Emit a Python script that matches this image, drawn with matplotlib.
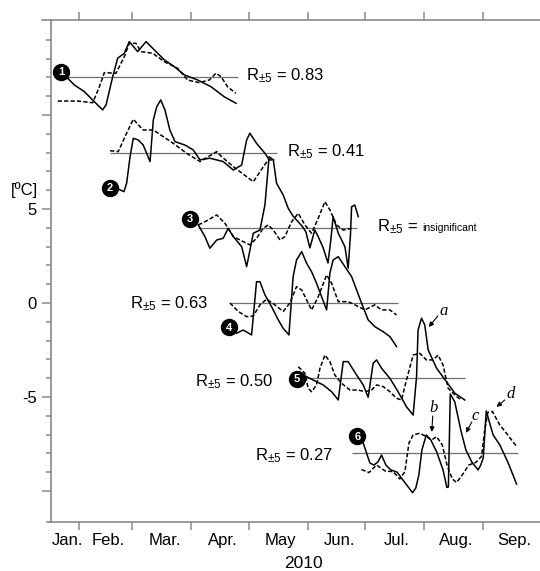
import matplotlib
matplotlib.use('Agg')
import matplotlib.pyplot as plt

plt.rcParams['font.family'] = ['Liberation Sans', 'DejaVu Sans']
plt.rcParams['mathtext.fontset'] = 'custom'
plt.rcParams['mathtext.rm'] = 'Liberation Sans'
plt.rcParams['mathtext.it'] = 'Liberation Sans:italic'

# x = day of year 2010, y = shifted temperature [ºC]
# panel 1
d1s = [25.2, 29.5, 34.8, 40.0, 44.4, 46.2, 49.7, 52.3, 55.8, 58.4, 62.8, 67.2, 71.5, 76.8, 82.0, 87.3, 94.3, 101.3, 108.2, 114.4]
v1s = [12.04, 11.6, 11.24, 10.71, 10.27, 10.53, 12.04, 13.02, 13.28, 13.9, 13.37, 13.9, 13.46, 12.93, 12.57, 12.13, 11.86, 11.5, 10.97, 10.62]
d1d = [20.8, 31.3, 39.2, 42.7, 45.3, 51.4, 55.8, 58.4, 61.9, 64.5, 70.7, 76.8, 83.8, 89.0, 95.1, 100.4, 103.9, 106.5, 110.0, 114.4]
v1d = [10.74, 10.74, 10.65, 11.5, 12.25, 12.22, 13.1, 13.81, 13.81, 13.37, 13.28, 12.83, 12.48, 11.86, 11.72, 11.86, 12.22, 12.04, 11.5, 11.15]
# panel 2
d2s = [51.8, 55.6, 57.0, 58.8, 60.5, 63.1, 65.7, 69.3, 71.0, 72.8, 74.9, 77.1, 79.7, 82.4, 87.6, 92.0, 95.5, 100.7, 107.7, 113.0, 117.4, 120.0, 121.7, 125.2, 129.6, 131.3]
v2s = [6.10, 5.92, 6.37, 7.78, 8.76, 8.67, 8.40, 7.52, 9.73, 10.44, 10.80, 10.27, 9.20, 8.58, 8.40, 8.14, 7.61, 7.70, 7.52, 7.07, 7.34, 8.67, 9.03, 8.49, 7.96, 7.70]
d2d = [48.3, 52.6, 57.0, 60.5, 65.7, 71.0, 81.5, 88.5, 95.5, 104.3, 106.9, 113.0, 123.5, 127.0, 131.3, 134.8]
v2d = [8.1, 8.05, 9.03, 9.77, 9.20, 9.20, 8.49, 7.96, 7.52, 8.05, 7.78, 7.25, 6.45, 6.98, 7.61, 7.61]
# panel 3
d3s = [94.6, 98.1, 100.7, 104.3, 107.7, 110.3, 113.0, 117.4, 120.0, 123.5, 127.0, 129.6, 131.8, 134.0, 135.7, 139.2, 141.8, 144.3, 149.5, 151.1, 153.2, 155.8, 157.4, 160.0, 162.7, 164.2, 165.4, 168.1, 171.6, 173.3, 174.5, 175.1, 176.8, 178.6]
v3s = [4.15, 3.53, 2.91, 3.35, 3.44, 3.97, 3.53, 2.99, 1.93, 3.71, 3.88, 5.21, 7.78, 7.61, 6.37, 5.74, 5.04, 4.63, 4.04, 3.78, 2.93, 3.88, 3.56, 2.98, 2.13, 3.35, 4.59, 3.71, 2.99, 1.85, 3.62, 5.12, 5.21, 4.59]
d3d = [94.6, 98.1, 104.3, 108.6, 113.0, 116.5, 121.7, 125.2, 128.7, 131.3, 134.0, 137.5, 140.1, 143.6, 147.1, 150.6, 154.1, 157.6, 161.1, 163.7, 167.2, 170.7, 175.1]
v3d = [4.15, 4.32, 4.68, 4.24, 3.53, 3.35, 3.09, 3.44, 3.97, 4.15, 3.88, 3.35, 3.53, 4.32, 4.77, 4.15, 3.71, 4.51, 5.39, 4.95, 4.15, 3.88, 3.97]
# panel 4
d4s = [114.7, 118.2, 122.6, 125.2, 127.0, 129.6, 133.1, 136.6, 139.2, 142.2, 144.4, 146.2, 148.9, 151.5, 154.1, 156.7, 159.3, 162.0, 163.7, 165.4, 168.1, 171.6, 175.1, 180.3, 183.8, 187.3, 191.7, 195.2, 198.7]
v4s = [-1.61, -1.44, -1.70, 1.13, 1.13, 0.43, -0.20, -0.90, -1.35, -1.70, 1.40, 2.29, 2.73, 2.11, 1.66, 1.05, 0.34, -0.37, 1.58, 2.29, 2.46, 1.93, 1.40, 0.0, -0.90, -1.26, -1.53, -1.79, -2.32]
d4d = [111.2, 115.6, 120.0, 123.5, 127.0, 130.5, 134.8, 139.2, 142.7, 146.2, 148.9, 151.5, 154.1, 157.6, 162.0, 164.6, 168.1, 173.3, 176.8, 182.1, 187.3, 190.8, 195.2, 198.7]
v4d = [0.0, -0.45, -0.73, -0.69, -0.1, 0.20, -0.1, -0.45, 0.0, 0.87, 0.69, 0.16, -0.37, 0.34, 1.49, 1.05, 0.07, 0.07, -0.1, -0.37, -0.1, -0.37, -0.37, -0.64]
# panel 5
d5s = [149.7, 154.9, 160.2, 164.6, 168.1, 170.7, 173.3, 177.7, 181.2, 183.8, 186.4, 188.2, 190.8, 195.2, 199.5, 203.9, 207.4, 209.2, 210.0, 211.8, 213.5, 215.3, 219.7, 224.9, 229.3, 234.5]
v5s = [-3.83, -4.10, -4.36, -4.72, -5.16, -3.12, -3.12, -3.83, -4.36, -5.02, -3.21, -3.03, -3.47, -4.01, -4.72, -5.52, -5.96, -3.92, -1.44, -0.81, -1.17, -2.50, -3.47, -4.19, -4.80, -5.16]
d5d = [147.1, 150.6, 152.3, 154.1, 156.7, 158.5, 161.1, 163.7, 166.3, 169.8, 174.2, 178.5, 182.1, 185.6, 188.2, 191.7, 195.2, 198.7, 201.3, 203.9, 207.4, 210.9, 214.4, 217.9, 220.5, 223.1, 225.8, 230.2, 232.8]
v5d = [-3.39, -3.74, -4.54, -4.72, -4.36, -3.47, -2.77, -3.12, -3.83, -4.27, -4.63, -4.63, -4.72, -4.63, -4.36, -4.45, -4.72, -5.07, -5.16, -4.10, -2.77, -2.68, -3.03, -3.03, -2.77, -3.30, -4.54, -4.98, -5.16]
# panel 6
d6s = [181.2, 184.7, 186.8, 188.9, 190.8, 193.1, 195.7, 198.9, 202.0, 207.1, 208.8, 210.4, 212.0, 214.3, 216.7, 219.8, 223.1, 225.1, 225.9, 226.9, 229.3, 232.4, 235.1, 238.2, 241.5, 242.9, 244.2, 245.8, 247.1, 249.4, 252.9, 257.1, 261.7]
v6s = [-7.45, -8.51, -8.62, -8.46, -8.09, -8.62, -8.88, -8.99, -9.41, -10.09, -9.84, -9.15, -7.82, -7.02, -7.29, -7.93, -8.88, -9.81, -9.79, -4.84, -5.27, -6.76, -7.82, -8.46, -8.88, -8.62, -8.24, -5.74, -6.22, -7.02, -7.55, -8.46, -9.63]
d6d = [180.3, 184.2, 188.2, 192.8, 196.9, 200.4, 203.1, 205.2, 207.4, 210.9, 214.4, 217.1, 219.7, 222.7, 225.3, 228.0, 230.2, 233.2, 236.6, 240.3, 243.3, 245.0, 246.6, 249.0, 252.9, 256.4, 261.7]
v6d = [-8.86, -9.02, -8.62, -8.94, -8.97, -9.36, -8.97, -7.45, -7.02, -6.93, -7.11, -7.29, -7.11, -7.55, -8.67, -9.36, -9.55, -9.15, -8.62, -8.48, -8.16, -6.76, -5.82, -5.77, -6.49, -6.93, -7.63]

# mean lines of each panel
ref_start = [24.1, 48.3, 94.4, 111.2, 149.5, 175.1]
ref_end = [115.4, 135.9, 177.9, 199.4, 234.5, 262.5]
ref_level = [12.0, 8.0, 4.0, 0.0, -4.0, -8.0]

# numbered markers
mark_day = [22.8, 48.3, 90.2, 110.7, 146.4, 178.1]
mark_val = [12.31, 6.12, 4.49, -1.28, -4.04, -7.10]

# correlation labels
r_values = ['0.83', '0.41', None, '0.63', '0.50', '0.27']
r_day = [119.6, 141.0, 188.2, 58.8, 92.9, 124.3]
r_base = [11.86, 7.82, 3.83, -0.27, -4.45, -8.35]

# annotated events: letter position, arrow start, arrow tip
ev_letter = ['a', 'b', 'c', 'd']
ev_text = [(223.5, -0.43), (218.0, -5.59), (239.8, -6.01), (258.7, -4.84)]
ev_from = [(220.4, -0.69), (217.7, -6.01), (238.2, -6.33), (255.5, -5.16)]
ev_tip = [(215.6, -1.28), (217.2, -6.86), (235.1, -6.91), (251.2, -5.53)]

month_starts = [32, 60, 91, 121, 152, 182, 213, 244, 274]
month_names = ['Jan.', 'Feb.', 'Mar.', 'Apr.', 'May', 'Jun.', 'Jul.', 'Aug.', 'Sep.']

xmin, xmax = 17.3, 274.0
ymin, ymax = -11.65, 15.05

fig = plt.figure(figsize=(5.4, 5.71), dpi=100)
ax = fig.add_axes([51/540, 49/571, 489/540, 502/571])

panels = [(d1s, v1s, d1d, v1d), (d2s, v2s, d2d, v2d), (d3s, v3s, d3d, v3d),
          (d4s, v4s, d4d, v4d), (d5s, v5s, d5d, v5d), (d6s, v6s, d6d, v6d)]

for i, (ds, vs, dd, vd) in enumerate(panels):
    ax.hlines(ref_level[i], ref_start[i], ref_end[i], color='#707070', lw=0.9, zorder=1)
    ax.plot(dd, vd, color='black', lw=1.1, ls=(0, (2.8, 1.4)), zorder=2)
    ax.plot(ds, vs, color='black', lw=1.1, zorder=3)
    ax.plot(mark_day[i], mark_val[i], 'o', ms=11.5, color='black', zorder=4)
    ax.text(mark_day[i], mark_val[i] - 0.03, str(i + 1), color='white', fontsize=8,
            fontweight='bold', ha='center', va='center', zorder=5)

for i in range(6):
    if r_values[i] is None:
        ax.text(r_day[i], r_base[i], r'R$_{\pm5}$ =', fontsize=12, va='baseline')
        ax.text(212.3, r_base[i], 'insignificant', fontsize=7.5, va='baseline')
    else:
        ax.text(r_day[i], r_base[i], r'R$_{\pm5}$ = ' + r_values[i], fontsize=12, va='baseline')

for letter, pos, start, tip in zip(ev_letter, ev_text, ev_from, ev_tip):
    ax.text(pos[0], pos[1], letter, fontsize=12, family='Liberation Serif',
            style='italic', ha='center', va='center')
    ax.annotate('', xy=tip, xytext=start,
                arrowprops=dict(arrowstyle='-|>', color='black', lw=0.8,
                                mutation_scale=7, shrinkA=0, shrinkB=0))

ax.set_xlim(xmin, xmax)
ax.set_ylim(ymin, ymax)

# axes styling
grey = '#8a8a8a'
ax.spines['right'].set_visible(False)
for s in ['left', 'top', 'bottom']:
    ax.spines[s].set_color(grey)
    ax.spines[s].set_linewidth(1.2)
# little overhang of the top and bottom frame lines
ax.plot([-0.018, 0], [1, 1], transform=ax.transAxes, color=grey, lw=1.2, clip_on=False)
ax.plot([-0.008, 0], [0, 0], transform=ax.transAxes, color=grey, lw=1.2, clip_on=False)

ax.set_yticks([-10, -5, 0, 5, 10], ['', '-5', '0', '5', ''])
ax.set_yticks([v for v in range(-10, 15) if v % 5], minor=True)
ax.tick_params(axis='y', which='major', length=6.5, width=1.1, color=grey, pad=3.5, labelsize=12)
ax.tick_params(axis='y', which='minor', length=3.6, width=1.1, color=grey)

label_pos = [(xmin + month_starts[0]) / 2 + 1.5] + \
            [(month_starts[k] + month_starts[k + 1]) / 2 + 1.5 for k in range(8)]
ax.set_xticks(month_starts[:-1], [''] * 8)
ax.set_xticks(label_pos, month_names, minor=True)
ax.tick_params(axis='x', which='major', length=5.8, width=1.1, color=grey, top=True, bottom=True)
ax.tick_params(axis='x', which='minor', length=0, pad=8, labelsize=12, top=False)

ax.text(-0.027, 6.0, '[ºC]', transform=ax.get_yaxis_transform(), ha='right', va='center', fontsize=12)
fig.text(303/540, 1 - 563/571, '2010', ha='center', va='center', fontsize=12.5)

fig.savefig('out.png', dpi=100)
